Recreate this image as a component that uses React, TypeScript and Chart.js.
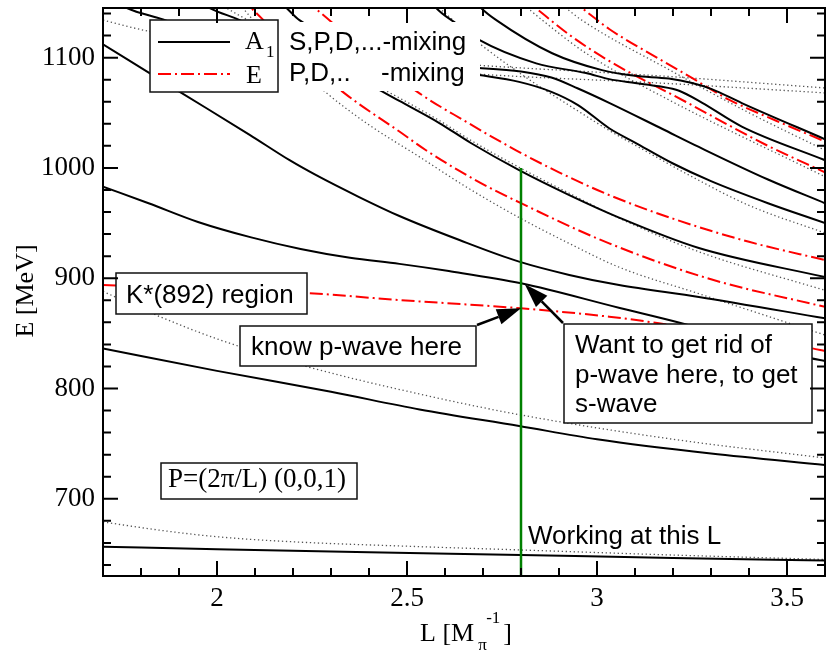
import React, { useEffect, useRef } from "react";
import { Chart, registerables } from "chart.js";

Chart.register(...registerables);

type P = [number, number];

// ---- axes ----
const xRange: P = [1.7, 3.6];
const yRange: P = [630, 1145];
const xMajorTicks = [2, 2.5, 3, 3.5];
const xTickLabels = ["2", "2.5", "3", "3.5"];
const xMinorTicks = [1.8, 1.9, 2.1, 2.2, 2.3, 2.4, 2.6, 2.7, 2.8, 2.9, 3.1, 3.2, 3.3, 3.4];
const yMajorTicks = [700, 800, 900, 1000, 1100];
const yTickLabels = ["700", "800", "900", "1000", "1100"];
const yMinorTicks = [640, 660, 680, 720, 740, 760, 780, 820, 840, 860, 880, 920, 940, 960, 980, 1020, 1040, 1060, 1080, 1120, 1140];

// ---- A1 levels (solid black) : [L, E] ----
const a1Level1: P[] = [[1.7, 656.5], [2.0, 654.3], [2.4, 651.5], [2.8, 649], [3.2, 646.3], [3.6, 644]];
const a1Level2: P[] = [[1.7, 836.4], [2.0, 816], [2.3, 797], [2.533, 781], [2.795, 766], [3.0, 754], [3.3, 741], [3.6, 730.6]];
const a1Level3: P[] = [[1.7, 983], [1.82, 968], [1.95, 951], [2.09, 937], [2.22, 926.5], [2.35, 918.5], [2.48, 913], [2.61, 906.5], [2.8, 895.4], [3.06, 873], [3.22, 859.4], [3.56, 827.6], [3.6, 825]];
const a1Level4: P[] = [[1.7, 1112], [1.902, 1069], [2.086, 1030], [2.191, 1007], [2.261, 993.4], [2.374, 973.6], [2.48, 956.4], [2.638, 934.6], [2.795, 915], [2.927, 903], [3.058, 893.8], [3.268, 883], [3.6, 863.6]];
const a1Level5: P[] = [[1.95, 1152], [1.981, 1145], [2.06, 1134], [2.25, 1101], [2.428, 1070.6], [2.48, 1060.7], [2.585, 1040.7], [2.668, 1022.6], [2.795, 998], [2.927, 975.4], [3.058, 955], [3.268, 927.4], [3.6, 901]];
const a1Level6: P[] = [[1.73, 1152], [1.763, 1145], [1.858, 1134.6], [2.0, 1117], [2.2, 1102], [2.45, 1094], [2.69, 1090.6], [2.8, 1087.5], [2.88, 1082], [2.95, 1072], [3.032, 1059], [3.171, 1035.5], [3.268, 1019], [3.45, 989.5], [3.6, 968]];
const a1Level7: P[] = [[2.16, 1152], [2.183, 1145], [2.217, 1134], [2.45, 1096], [2.69, 1084.2], [2.795, 1078], [2.88, 1069], [2.95, 1057], [3.032, 1036], [3.1, 1023], [3.2, 1004], [3.3, 988], [3.45, 968], [3.6, 950]];
const a1Level8: P[] = [[2.55, 1158], [2.577, 1145], [2.625, 1132], [2.69, 1116], [2.84, 1094.8], [2.971, 1086], [3.032, 1080.5], [3.1, 1077], [3.163, 1074], [3.216, 1070], [3.277, 1059], [3.381, 1037.5], [3.6, 1007]];
const a1Level9: P[] = [[2.66, 1160], [2.695, 1145], [2.735, 1134], [2.882, 1104], [3.013, 1088.7], [3.1, 1083.5], [3.189, 1081], [3.25, 1077], [3.302, 1071.5], [3.381, 1058.8], [3.6, 1026]];

// ---- E levels (red dash-dot) ----
const eLevel1: P[] = [[1.7, 893.8], [2.236, 886.6], [2.48, 880.2], [2.8, 872.7], [3.032, 865.1], [3.163, 859.1], [3.562, 836.7], [3.6, 834]];
const eLevel2: P[] = [[2.06, 1155], [2.09, 1145], [2.2, 1108], [2.336, 1067.6], [2.48, 1033], [2.55, 1016], [2.68, 989], [2.8, 968], [3.032, 931.6], [3.3, 899], [3.6, 874]];
const eLevel3: P[] = [[2.23, 1152], [2.257, 1145], [2.4, 1103], [2.533, 1067.6], [2.65, 1043], [2.787, 1016], [2.9, 996], [3.032, 975.4], [3.2, 954], [3.4, 933], [3.6, 916.5]];
const eLevel4: P[] = [[2.8, 1156], [2.839, 1145], [2.93, 1120], [3.032, 1097], [3.233, 1060], [3.45, 1020], [3.6, 996]];
const eLevel5: P[] = [[2.93, 1153], [2.96, 1145], [3.032, 1126], [3.163, 1099], [3.243, 1083], [3.347, 1062], [3.47, 1043], [3.6, 1024]];

// ---- free levels (grey dotted) ----
const free1: P[] = [[1.7, 679], [1.85, 671.5], [2.0, 665.6], [2.2, 661], [2.5, 657], [2.8, 653.6], [3.2, 649], [3.6, 645]];
const free2: P[] = [[1.7, 888], [1.83, 868], [2.0, 845], [2.235, 820], [2.533, 795], [2.8, 776], [3.2, 754], [3.6, 737]];
const free3: P[] = [[2.06, 1148], [2.17, 1105], [2.288, 1068], [2.4, 1039], [2.533, 1010], [2.65, 984], [2.795, 955], [2.93, 931], [3.058, 910], [3.268, 886], [3.6, 848.5]];
const free4: P[] = [[2.0, 1150], [2.06, 1138], [2.25, 1104], [2.428, 1073], [2.585, 1043], [2.668, 1025], [2.795, 1000.5], [2.927, 977], [3.058, 954.5], [3.268, 924], [3.6, 889]];
const free5: P[] = [[2.56, 1152], [2.585, 1145], [2.64, 1128], [2.69, 1113], [2.822, 1080], [2.93, 1056], [3.032, 1034], [3.14, 1013], [3.242, 993.5], [3.4, 966], [3.6, 941]];
const free6: P[] = [[2.9, 1150], [2.96, 1134], [3.19, 1089], [3.4, 1050], [3.6, 1016]];
const free7: P[] = [[2.8, 1150], [2.856, 1134], [2.971, 1104], [3.19, 1061.5], [3.6, 992]];
const free8: P[] = [[1.7, 1134], [1.82, 1124], [2.2, 1106], [2.69, 1093], [3.163, 1083.5], [3.6, 1072.5]];
const free9: P[] = [[2.0, 1106], [2.3, 1096], [2.69, 1085], [3.163, 1077], [3.6, 1068]];

// ---- working L marker ----
const workingL = 2.8;
const workingLine: P[] = [[workingL, 630], [workingL, 1000]];
const pWavePoint: P = [2.8, 872.7];
const sWavePoint: P = [2.81, 894.5];

const solidLevels = [a1Level1, a1Level2, a1Level3, a1Level4, a1Level5, a1Level6, a1Level7, a1Level8, a1Level9];
const eLevels = [eLevel1, eLevel2, eLevel3, eLevel4, eLevel5];
const freeLevels = [free1, free2, free3, free4, free5, free6, free7, free8, free9];

const RED_DASH = [13, 4, 2, 4];
const SERIF = "'Liberation Serif', 'Times New Roman', serif";
const SANS = "'Liberation Sans', Arial, sans-serif";

const toXY = (pts: P[]) => pts.map(([x, y]) => ({ x, y }));

function arrow(ctx: CanvasRenderingContext2D, x0: number, y0: number, x1: number, y1: number) {
  const a = Math.atan2(y1 - y0, x1 - x0);
  const hl = 24, hw = 8;
  const bx = x1 - hl * Math.cos(a), by = y1 - hl * Math.sin(a);
  ctx.strokeStyle = "#000";
  ctx.fillStyle = "#000";
  ctx.lineWidth = 2.5;
  ctx.setLineDash([]);
  ctx.beginPath();
  ctx.moveTo(x0, y0);
  ctx.lineTo(bx, by);
  ctx.stroke();
  ctx.beginPath();
  ctx.moveTo(x1, y1);
  ctx.lineTo(bx + hw * Math.sin(a), by - hw * Math.cos(a));
  ctx.lineTo(bx - hw * Math.sin(a), by + hw * Math.cos(a));
  ctx.closePath();
  ctx.fill();
}

function box(ctx: CanvasRenderingContext2D, x: number, y: number, w: number, h: number, border = true) {
  ctx.fillStyle = "#fff";
  ctx.fillRect(x, y, w, h);
  if (border) {
    ctx.strokeStyle = "#111";
    ctx.lineWidth = 1.5;
    ctx.setLineDash([]);
    ctx.strokeRect(x, y, w, h);
  }
}

const overlayPlugin = {
  id: "overlay",
  afterDatasetsDraw(chart: any) {
    const { ctx, chartArea: ca } = chart;
    const xs = chart.scales.x, ys = chart.scales.y;
    const X = (v: number) => xs.getPixelForValue(v);
    const Y = (v: number) => ys.getPixelForValue(v);
    ctx.save();

    // white panel behind mixing text
    box(ctx, 278, 22, 202, 69, false);
    // legend
    box(ctx, 150, 20, 128, 72);
    ctx.strokeStyle = "#000";
    ctx.lineWidth = 2;
    ctx.beginPath(); ctx.moveTo(158, 42); ctx.lineTo(230, 42); ctx.stroke();
    ctx.strokeStyle = "#ff0000";
    ctx.setLineDash(RED_DASH);
    ctx.beginPath(); ctx.moveTo(158, 74); ctx.lineTo(230, 74); ctx.stroke();
    ctx.setLineDash([]);
    ctx.fillStyle = "#000";
    ctx.textAlign = "left";
    ctx.textBaseline = "alphabetic";
    ctx.font = `26px ${SERIF}`;
    ctx.fillText("A", 245, 49);
    ctx.fillText("E", 246, 83);
    ctx.font = `17px ${SERIF}`;
    ctx.fillText("1", 266, 57);
    ctx.font = `26px ${SANS}`;
    ctx.fillText("S,P,D,...-mixing", 289, 50);
    ctx.fillText("P,D,..", 289, 81);
    ctx.fillText("-mixing", 381, 81);

    // annotation boxes
    box(ctx, 116, 273, 191, 41);
    ctx.fillStyle = "#000";
    ctx.fillText("K*(892) region", 126, 303);

    box(ctx, 240, 326, 236, 40);
    ctx.fillStyle = "#000";
    ctx.fillText("know p-wave here", 251, 355);

    box(ctx, 564, 324, 248, 99);
    ctx.fillStyle = "#000";
    ctx.fillText("Want to get rid of", 575, 353);
    ctx.fillText("p-wave here, to get", 575, 382.5);
    ctx.fillText("s-wave", 575, 412);

    ctx.fillText("Working at this L", 528, 544);

    box(ctx, 161, 463, 196, 36);
    ctx.fillStyle = "#000";
    ctx.font = `27px ${SERIF}`;
    ctx.fillText("P=(2\u03c0/L) (0,0,1)", 168, 487);

    // arrows
    arrow(ctx, 477, 325, X(pWavePoint[0]), Y(pWavePoint[1]));
    arrow(ctx, 563, 323, X(sWavePoint[0]), Y(sWavePoint[1]));

    // frame
    ctx.strokeStyle = "#000";
    ctx.lineWidth = 2;
    ctx.setLineDash([]);
    ctx.strokeRect(ca.left, ca.top, ca.right - ca.left, ca.bottom - ca.top);

    // inward ticks on all four sides
    ctx.lineWidth = 2;
    const tickX = (v: number, len: number) => {
      const px = X(v);
      ctx.beginPath();
      ctx.moveTo(px, ca.bottom); ctx.lineTo(px, ca.bottom - len);
      ctx.moveTo(px, ca.top); ctx.lineTo(px, ca.top + len);
      ctx.stroke();
    };
    const tickY = (v: number, len: number) => {
      const py = Y(v);
      ctx.beginPath();
      ctx.moveTo(ca.left, py); ctx.lineTo(ca.left + len, py);
      ctx.moveTo(ca.right, py); ctx.lineTo(ca.right - len, py);
      ctx.stroke();
    };
    xMajorTicks.forEach((v) => tickX(v, 15));
    xMinorTicks.forEach((v) => tickX(v, 8));
    yMajorTicks.forEach((v) => tickY(v, 15));
    yMinorTicks.forEach((v) => tickY(v, 8));

    // axis titles
    ctx.fillStyle = "#000";
    ctx.font = `26px ${SERIF}`;
    ctx.textAlign = "left";
    let tx = 420;
    const base = 641;
    ctx.fillText("L [M", tx, base);
    tx += ctx.measureText("L [M").width;
    ctx.font = `17px ${SERIF}`;
    ctx.fillText("\u03c0", tx + 4, base + 9);
    ctx.fillText("-1", tx + 12, base - 18);
    tx += 12 + ctx.measureText("-1").width + 3;
    ctx.font = `26px ${SERIF}`;
    ctx.fillText("]", tx, base);

    ctx.save();
    ctx.translate(33, 291);
    ctx.rotate(-Math.PI / 2);
    ctx.textAlign = "center";
    ctx.fillText("E [MeV]", 0, 0);
    ctx.restore();

    ctx.restore();
  },
};

const zeroPad = (s: any) => {
  s.paddingTop = 0;
  s.paddingBottom = 0;
  s.paddingLeft = 0;
  s.paddingRight = 0;
};

export default function App() {
  const canvasRef = useRef<HTMLCanvasElement | null>(null);

  useEffect(() => {
    const canvas = canvasRef.current;
    if (!canvas) return;

    const datasets: any[] = [];
    datasets.push({
      data: toXY(workingLine),
      borderColor: "#008000",
      borderWidth: 2.5,
      pointRadius: 0,
      tension: 0,
    });
    solidLevels.forEach((pts) =>
      datasets.push({
        data: toXY(pts),
        borderColor: "#000",
        borderWidth: 2,
        pointRadius: 0,
        cubicInterpolationMode: "monotone",
      })
    );
    eLevels.forEach((pts) =>
      datasets.push({
        data: toXY(pts),
        borderColor: "#ff0000",
        borderWidth: 2,
        borderDash: RED_DASH,
        pointRadius: 0,
        cubicInterpolationMode: "monotone",
      })
    );
    freeLevels.forEach((pts) =>
      datasets.push({
        data: toXY(pts),
        borderColor: "#555",
        borderWidth: 1.3,
        borderDash: [1.3, 2.7],
        pointRadius: 0,
        cubicInterpolationMode: "monotone",
      })
    );

    const tickFont = { family: "'Liberation Serif', 'Times New Roman', serif", size: 27 };

    const chart = new Chart(canvas, {
      type: "line",
      data: { datasets },
      options: {
        animation: false,
        responsive: false,
        devicePixelRatio: 1,
        events: [],
        layout: { padding: { top: 8, right: 1, left: 0, bottom: 0 } },
        plugins: { legend: { display: false }, tooltip: { enabled: false }, title: { display: false } },
        scales: {
          x: {
            type: "linear",
            min: xRange[0],
            max: xRange[1],
            grid: { display: false, drawTicks: false },
            border: { display: false },
            afterBuildTicks: (s: any) => {
              s.ticks = xMajorTicks.map((v) => ({ value: v }));
            },
            afterFit: (s: any) => {
              s.height = 76;
              zeroPad(s);
            },
            ticks: {
              padding: 7,
              color: "#000",
              font: tickFont,
              maxRotation: 0,
              autoSkip: false,
              callback: (v: any) => {
                const i = xMajorTicks.indexOf(Number(v));
                return i >= 0 ? xTickLabels[i] : "";
              },
            },
          },
          y: {
            type: "linear",
            min: yRange[0],
            max: yRange[1],
            grid: { display: false, drawTicks: false },
            border: { display: false },
            afterBuildTicks: (s: any) => {
              s.ticks = yMajorTicks.map((v) => ({ value: v }));
            },
            afterFit: (s: any) => {
              s.width = 103;
              zeroPad(s);
            },
            ticks: {
              padding: 8,
              color: "#000",
              font: tickFont,
              autoSkip: false,
              callback: (v: any) => {
                const i = yMajorTicks.indexOf(Number(v));
                return i >= 0 ? yTickLabels[i] : "";
              },
            },
          },
        },
      },
      plugins: [overlayPlugin],
    } as any);

    return () => chart.destroy();
  }, []);

  return (
    <div style={{ position: "fixed", left: 0, top: 0, width: 826, height: 652, background: "#fff" }}>
      <canvas ref={canvasRef} width={826} height={652} style={{ display: "block" }} />
    </div>
  );
}
